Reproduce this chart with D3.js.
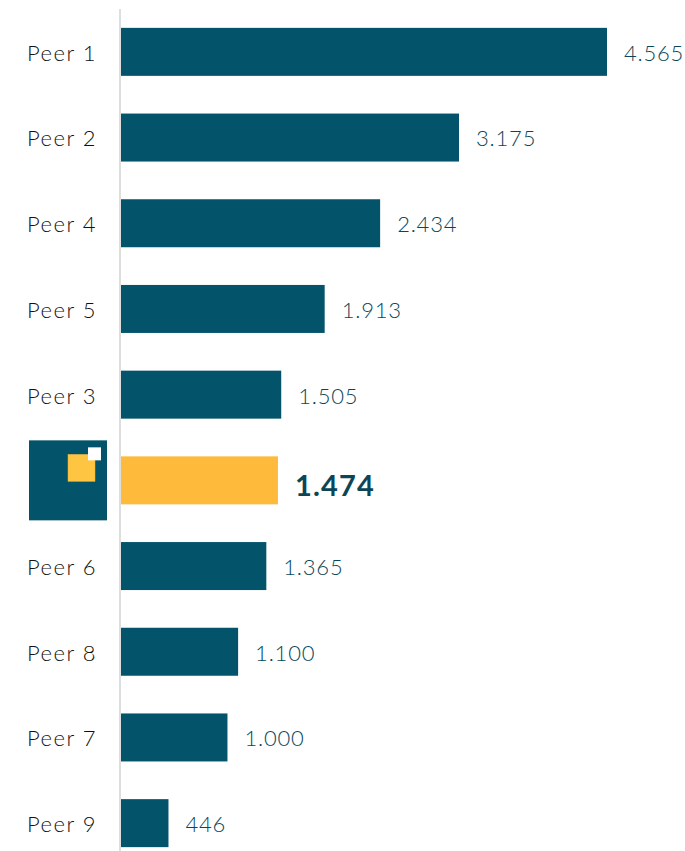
<!DOCTYPE html>
<html>
<head>
<meta charset="utf-8">
<script src="https://cdn.jsdelivr.net/npm/d3@7"></script>
<style>
  html, body { margin: 0; padding: 0; background: #fff; }
  svg { display: block; }
</style>
</head>
<body>
<svg id="chart" width="685" height="851"></svg>
<script>
// Ranked peer values; the empty label marks our own company (shown with the logo)
const categories = ["Peer 1", "Peer 2", "Peer 4", "Peer 5", "Peer 3", "", "Peer 6", "Peer 8", "Peer 7", "Peer 9"];
const values = [4565, 3175, 2434, 1913, 1505, 1474, 1365, 1100, 1000, 446];
const highlightIndex = 5;

const W = 685, H = 851;
const axisX = 121;
const svg = d3.select("#chart");

const x = d3.scaleLinear().domain([0, 4565]).range([axisX, 607]);
const y = d3.scaleBand().domain(d3.range(categories.length)).range([9, 866]).paddingInner(0.44).paddingOuter(0.22);

const fmt = d3.formatLocale({ decimal: ",", thousands: ".", grouping: [3], currency: ["", "€"] }).format(",d");

const dark = "#03536A";
const gold = "#FDBA3B";
const font = "'Century Gothic', 'Lato', 'Noto Sans', sans-serif";

// vertical baseline
svg.append("line")
  .attr("x1", axisX - 1).attr("x2", axisX - 1)
  .attr("y1", 9).attr("y2", H)
  .attr("stroke", "#dedede").attr("stroke-width", 2);

const rows = svg.selectAll("g.row").data(values).join("g").attr("class", "row");

rows.append("rect")
  .attr("x", axisX)
  .attr("y", (d, i) => y(i))
  .attr("width", d => x(d) - axisX)
  .attr("height", y.bandwidth())
  .attr("fill", (d, i) => i === highlightIndex ? gold : dark);

rows.append("text")
  .attr("x", d => x(d) + 17)
  .attr("y", (d, i) => y(i) + y.bandwidth() / 2 + (i === highlightIndex ? 5 : 1))
  .attr("dy", "0.36em")
  .attr("font-family", font)
  .attr("font-size", (d, i) => i === highlightIndex ? 29 : 22)
  .attr("font-weight", (d, i) => i === highlightIndex ? 700 : 300)
  .attr("letter-spacing", (d, i) => i === highlightIndex ? 1.2 : 0.8)
  .attr("fill", (d, i) => i === highlightIndex ? "#0c4656" : "#08475a")
  .text(d => fmt(d));

// category labels
svg.selectAll("text.cat").data(categories).join("text")
  .attr("class", "cat")
  .attr("x", 97)
  .attr("y", (d, i) => y(i) + y.bandwidth() / 2 + 1)
  .attr("dy", "0.36em")
  .attr("text-anchor", "end")
  .attr("font-family", font)
  .attr("font-size", 22)
  .attr("font-weight", 300)
  .attr("letter-spacing", 1.5)
  .attr("fill", "#111")
  .text(d => d);

// company logo in place of the highlighted label
const cy = y(highlightIndex) + y.bandwidth() / 2;
const logo = svg.append("g").attr("transform", `translate(29, ${cy - 40})`);
logo.append("rect").attr("width", 78).attr("height", 80).attr("fill", dark);
logo.append("rect").attr("x", 39).attr("y", 14).attr("width", 27).attr("height", 27)
  .attr("fill", "#FEC542").attr("stroke", "#e8b23a").attr("stroke-width", 0.5);
logo.append("rect").attr("x", 59).attr("y", 7).attr("width", 13).attr("height", 13).attr("fill", "#fff");
</script>
</body>
</html>
